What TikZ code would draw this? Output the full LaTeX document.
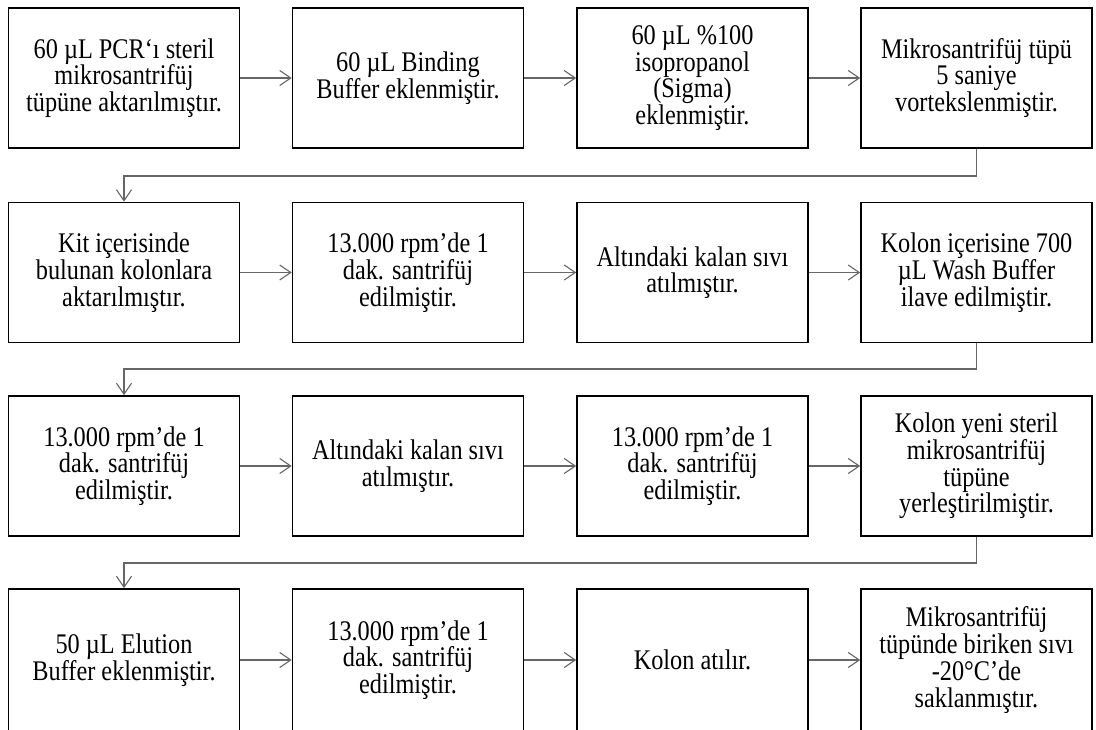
\documentclass[tikz,border=0pt]{standalone}
\usepackage{fontspec}
\setmainfont{Liberation Serif}
\usetikzlibrary{arrows.meta}
\newcommand\boxtext[1]{\scalebox{1}[1.17]{\parbox{228pt}{\centering\fontsize{24.3}{22.8}\selectfont #1\par}}}
\begin{document}
\begin{tikzpicture}[x=1pt,y=-1pt,
  stepbox/.style={draw=black,line width=1.6pt,fill=white,minimum width=231pt,minimum height=140pt,
    inner sep=1pt},
  lastbox/.style={stepbox,minimum height=142pt},
  flow/.style={draw=black!60,line width=1.1pt,-{Straight Barb[length=11pt,width=15pt,line width=1.1pt]}}]
\useasboundingbox (0,0) rectangle (1096,729);
% row 1
\node[stepbox] (a1) at (124,78) {\boxtext{60 µL PCR‘ı steril\\mikrosantrifüj\\tüpüne aktarılmıştır.}};
\node[stepbox] (a2) at (408,78) {\boxtext{60 µL Binding\\Buffer eklenmiştir.}};
\node[stepbox] (a3) at (692.5,78) {\boxtext{60 µL \%100\\isopropanol\\(Sigma)\\eklenmiştir.}};
\node[stepbox] (a4) at (976.5,78) {\boxtext{Mikrosantrifüj tüpü\\5 saniye\\vortekslenmiştir.}};
% row 2
\node[stepbox] (b1) at (124,272.5) {\boxtext{Kit içerisinde\\bulunan kolonlara\\aktarılmıştır.}};
\node[stepbox] (b2) at (408,272.5) {\boxtext{13.000 rpm’de 1\\dak. santrifüj\\edilmiştir.}};
\node[stepbox] (b3) at (692.5,272.5) {\boxtext{Altındaki kalan sıvı\\atılmıştır.}};
\node[stepbox] (b4) at (976.5,272.5) {\boxtext{Kolon içerisine 700\\µL Wash Buffer\\ilave edilmiştir.}};
% row 3
\node[stepbox] (c1) at (124,466) {\boxtext{13.000 rpm’de 1\\dak. santrifüj\\edilmiştir.}};
\node[stepbox] (c2) at (408,466) {\boxtext{Altındaki kalan sıvı\\atılmıştır.}};
\node[stepbox] (c3) at (692.5,466) {\boxtext{13.000 rpm’de 1\\dak. santrifüj\\edilmiştir.}};
\node[stepbox] (c4) at (976.5,466) {\boxtext{Kolon yeni steril\\mikrosantrifüj\\tüpüne\\yerleştirilmiştir.}};
% row 4
\node[lastbox] (d1) at (124,660) {\boxtext{50 µL Elution\\Buffer eklenmiştir.}};
\node[lastbox] (d2) at (408,660) {\boxtext{13.000 rpm’de 1\\dak. santrifüj\\edilmiştir.}};
\node[lastbox] (d3) at (692.5,660) {\boxtext{Kolon atılır.}};
\node[lastbox] (d4) at (976.5,660) {\boxtext{Mikrosantrifüj\\tüpünde biriken sıvı\\-20°C’de\\saklanmıştır.}};
% horizontal arrows
\draw[flow] (a1) -- (a2);
\draw[flow] (a2) -- (a3);
\draw[flow] (a3) -- (a4);
\draw[flow] (b1) -- (b2);
\draw[flow] (b2) -- (b3);
\draw[flow] (b3) -- (b4);
\draw[flow] (c1) -- (c2);
\draw[flow] (c2) -- (c3);
\draw[flow] (c3) -- (c4);
\draw[flow] (d1) -- (d2);
\draw[flow] (d2) -- (d3);
\draw[flow] (d3) -- (d4);
% row-to-row connectors
\coordinate (j1) at (976.5,176);
\coordinate (k1) at (124,176);
\draw[flow] (a4.south) -- (j1) -- (k1) -- (b1.north);
\coordinate (j2) at (976.5,369);
\coordinate (k2) at (124,369);
\draw[flow] (b4.south) -- (j2) -- (k2) -- (c1.north);
\coordinate (j3) at (976.5,563);
\coordinate (k3) at (124,563);
\draw[flow] (c4.south) -- (j3) -- (k3) -- (d1.north);
\end{tikzpicture}
\end{document}
